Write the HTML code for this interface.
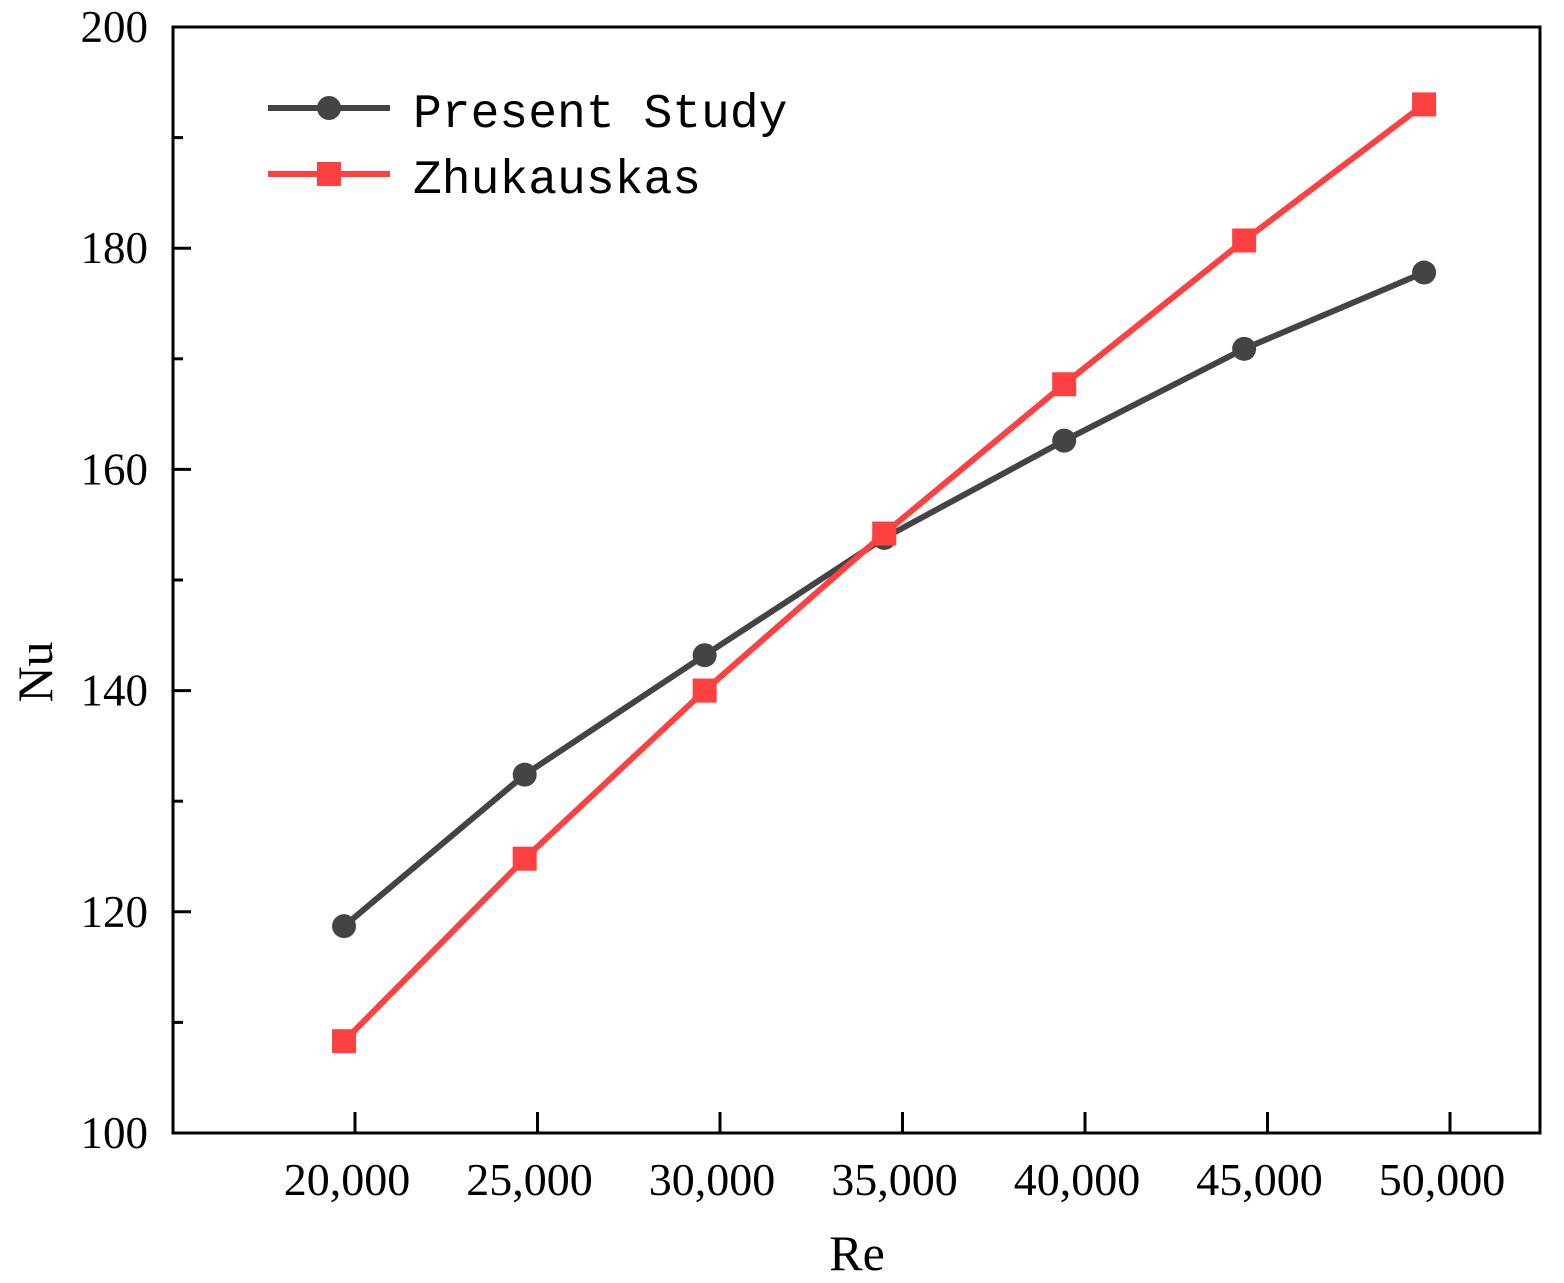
<!DOCTYPE html>
<html><head><meta charset="utf-8"><style>
html,body{margin:0;padding:0;background:#fff;}
svg{display:block;}
</style></head><body>
<svg id="chart" width="1564" height="1283" xmlns="http://www.w3.org/2000/svg"></svg>
<script>
const reValues = [19700, 24650, 29580, 34500, 39430, 44360, 49290];
const presentStudy = [118.7, 132.4, 143.2, 153.8, 162.6, 170.9, 177.8];
const zhukauskas = [108.3, 124.8, 140.0, 154.2, 167.7, 180.7, 193.0];
const xTicks = [20000, 25000, 30000, 35000, 40000, 45000, 50000];
const xTickLabels = ["20,000","25,000","30,000","35,000","40,000","45,000","50,000"];
const yTicks = [100, 120, 140, 160, 180, 200];
const yMinorTicks = [110, 130, 150, 170, 190];

const L=173, R=1540, T=27, B=1133;
const xMin=15014, xMax=52466, yMin=100, yMax=200;
const xs = v => L + (v - xMin) / (xMax - xMin) * (R - L);
const ys = v => B - (v - yMin) / (yMax - yMin) * (B - T);
const NS="http://www.w3.org/2000/svg";
const svg=document.getElementById('chart');
function mk(tag, attrs, parent){const e=document.createElementNS(NS,tag);for(const k in attrs)e.setAttribute(k,attrs[k]);(parent||svg).appendChild(e);return e;}

const frame=mk('rect',{x:L,y:T,width:R-L,height:B-T,fill:'none',stroke:'#000','stroke-width':3});



xTicks.forEach((t,i)=>{
  const x=xs(t);
  const tk=mk('line',{x1:x,x2:x,y1:B,y2:B-21,stroke:'#000','stroke-width':3});
  
  
  const lb=mk('text',{x:x-8,y:B+62,'text-anchor':'middle','font-family':'Liberation Serif, serif','font-size':46,fill:'#000'});
  lb.textContent=xTickLabels[i];
  
  
});
yTicks.forEach(t=>{
  const y=ys(t);
  const tk=mk('line',{x1:L,x2:L+18,y1:y,y2:y,stroke:'#000','stroke-width':3});
  
  
  const lb=mk('text',{x:148,y:y+15,'text-anchor':'end','font-family':'Liberation Serif, serif','font-size':45,fill:'#000'});
  lb.textContent=String(t);
  
  
});
yMinorTicks.forEach(t=>{
  const y=ys(t);
  const tk=mk('line',{x1:L,x2:L+10,y1:y,y2:y,stroke:'#000','stroke-width':3});
  
  
});

const xt=mk('text',{x:857,y:1270,'text-anchor':'middle','font-family':'Liberation Serif, serif','font-size':50,fill:'#000'});
xt.textContent='Re';


const yt=mk('text',{x:0,y:0,'text-anchor':'middle','font-family':'Liberation Serif, serif','font-size':50,fill:'#000',transform:'translate(52,672) rotate(-90)'});
yt.textContent='Nu';



function series(vals,color,shape,name){
  const pts=vals.map((v,i)=>xs(reValues[i])+','+ys(v)).join(' ');
  const pl=mk('polyline',{points:pts,fill:'none',stroke:color,'stroke-width':6});
  
  
  vals.forEach((v,i)=>{
    const x=xs(reValues[i]), y=ys(v);
    let m;
    if(shape==='circle') m=mk('circle',{cx:x,cy:y,r:12,fill:color});
    else m=mk('rect',{x:x-12,y:y-12,width:24,height:24,fill:color});
    
    
  });
}
series(presentStudy,'#444444','circle','present-study');
series(zhukauskas,'#ff4040','square','zhukauskas');

const legend=[['Present Study','#444444','circle',108],['Zhukauskas','#ff4040','square',174]];
legend.forEach(([label,color,shape,y])=>{
  const ln=mk('line',{x1:268,x2:390,y1:y,y2:y,stroke:color,'stroke-width':6});
  
  
  let m;
  if(shape==='circle') m=mk('circle',{cx:329,cy:y,r:12,fill:color});
  else m=mk('rect',{x:317,y:y-12,width:24,height:24,fill:color});
  
  
  const t=mk('text',{x:413,y:y+19,'font-family':'Liberation Mono, monospace','font-size':48,fill:'#000'});
  t.textContent=label;
  
  
});
</script>
</body></html>
